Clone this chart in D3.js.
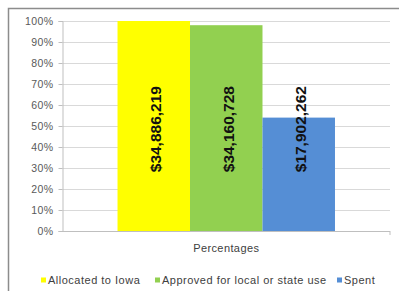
<!DOCTYPE html>
<html>
<head>
<meta charset="UTF-8">
<title>Funds chart</title>
<script src="https://cdn.jsdelivr.net/npm/d3@7"></script>
<style type="text/css">
	body { margin:0; background:white; }
	text { font-family:"Liberation Sans", Arial, sans-serif; }
</style>
</head>
<body>
<script type="text/javascript">

// donnees
var categories = ['Percentages'];
var series = ['Allocated to Iowa', 'Approved for local or state use', 'Spent'];
var valeurs = [100, 98, 54];
var montants = ['$34,886,219', '$34,160,728', '$17,902,262'];
var couleurs = ['#ffff00', '#92d050', '#558ed5'];
var ticks = [0, 10, 20, 30, 40, 50, 60, 70, 80, 90, 100];

var large = 399, haut = 291;

var svg = d3.select('body').append('svg')
	.attr('width', large)
	.attr('height', haut);

svg.append('rect')
	.attr('width', large).attr('height', haut)
	.attr('fill', 'white');

// cadre
svg.append('rect')
	.attr('x', 8.5).attr('y', 8.5)
	.attr('width', 420).attr('height', 320)
	.attr('fill', 'none')
	.attr('stroke', '#8c8c8c')
	.attr('stroke-width', 1.5);

var x0 = d3.scaleBand()
	.domain(categories)
	.range([62.5, 390])
	.paddingInner(0)
	.paddingOuter(0.253);

var x1 = d3.scaleBand()
	.domain(series)
	.range([0, x0.bandwidth()]);

var y = d3.scaleLinear()
	.domain([0, 100])
	.range([231, 21]);

// grille
svg.append('g').selectAll('line')
	.data(ticks.filter(function(d){ return d > 0; }))
	.enter().append('line')
	.attr('x1', 62.5).attr('x2', 390)
	.attr('y1', function(d){ return Math.round(y(d)) + 0.5; })
	.attr('y2', function(d){ return Math.round(y(d)) + 0.5; })
	.attr('stroke', '#d9d9d9');

// axe y
var axeY = svg.append('g')
	.attr('transform', 'translate(62.5,0)')
	.call(d3.axisLeft(y)
		.tickValues(ticks)
		.tickSize(4)
		.tickPadding(5)
		.tickFormat(function(d){ return d + '%'; }));
axeY.select('.domain').attr('stroke', '#bfbfbf');
axeY.selectAll('.tick line').attr('stroke', '#bfbfbf');
axeY.selectAll('.tick text')
	.attr('fill', '#595959')
	.style('font-size', '10.5px')
	.style('letter-spacing', '0.4px')
	.style('font-family', '"Liberation Sans", Arial, sans-serif');

// barres
var g = svg.append('g')
	.attr('transform', 'translate(' + x0(categories[0]) + ',0)');

g.selectAll('rect')
	.data(valeurs)
	.enter().append('rect')
	.attr('x', function(d, i){ return x1(series[i]); })
	.attr('y', function(d){ return y(d); })
	.attr('width', x1.bandwidth())
	.attr('height', function(d){ return y(0) - y(d); })
	.attr('fill', function(d, i){ return couleurs[i]; });

// etiquettes verticales
g.selectAll('.lab')
	.data(montants)
	.enter().append('text')
	.attr('class', 'lab')
	.attr('transform', function(d, i){
		return 'translate(' + (x1(series[i]) + x1.bandwidth() / 2 + 2) + ',' + y(48.5) + ') rotate(-90)';
	})
	.attr('text-anchor', 'middle')
	.attr('dy', '0.35em')
	.style('font-size', '15.5px')
	.style('font-weight', 'bold')
	.attr('fill', '#111')
	.text(function(d){ return d; });

// axe x
svg.append('line')
	.attr('x1', 62.5).attr('x2', 390)
	.attr('y1', y(0) + 0.5).attr('y2', y(0) + 0.5)
	.attr('stroke', '#bfbfbf');
svg.append('line')
	.attr('x1', 390).attr('x2', 390)
	.attr('y1', y(0)).attr('y2', y(0) + 4)
	.attr('stroke', '#bfbfbf');

svg.append('text')
	.attr('x', x0(categories[0]) + x0.bandwidth() / 2)
	.attr('y', 252)
	.attr('text-anchor', 'middle')
	.style('font-size', '11px')
	.style('letter-spacing', '0.4px')
	.attr('fill', '#404040')
	.text(categories[0]);

// legende
var legX = [41, 155, 337];
var leg = svg.append('g').selectAll('g')
	.data(series)
	.enter().append('g')
	.attr('transform', function(d, i){ return 'translate(' + legX[i] + ',280)'; });
leg.append('rect')
	.attr('x', 0).attr('y', -2.5)
	.attr('width', 5).attr('height', 5)
	.attr('fill', function(d, i){ return couleurs[i]; });
leg.append('text')
	.attr('x', 7)
	.attr('dy', '0.35em')
	.style('font-size', '11px')
	.style('letter-spacing', '0.5px')
	.attr('fill', '#404040')
	.text(function(d){ return d; });

</script>
</body>
</html>
